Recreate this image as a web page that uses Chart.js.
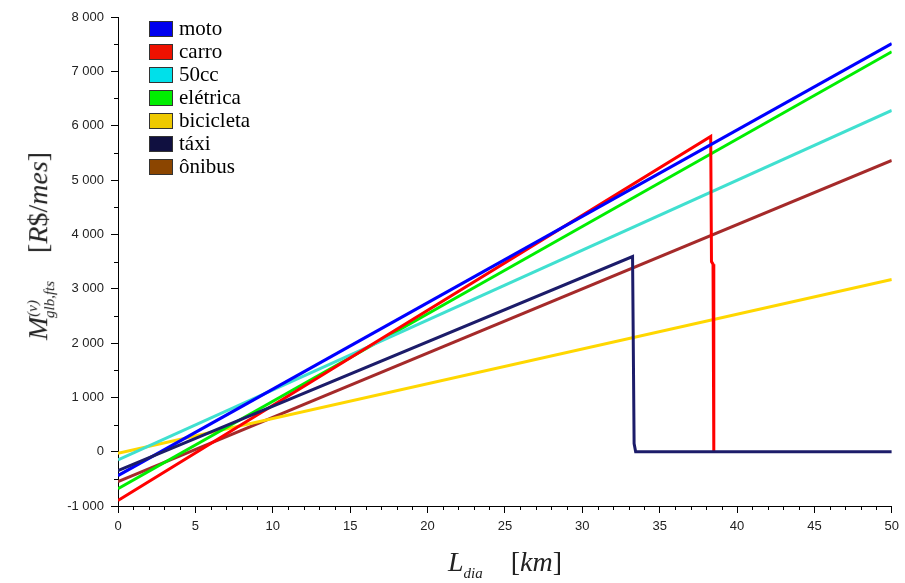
<!DOCTYPE html>
<html>
<head>
<meta charset="utf-8">
<script src="https://cdn.jsdelivr.net/npm/chart.js@4.4.0/dist/chart.umd.min.js"></script>
<style>
  html, body { margin: 0; padding: 0; background: #fff; }
  #wrap { position: relative; width: 905px; height: 583px; }
  #legenda { position: absolute; left: 149px; top: 17px; font-family: "Liberation Serif", serif; font-size: 21px; color: #000; }
  #legenda div { height: 23px; line-height: 21px; display: flex; align-items: center; }
  #legenda span.caixa { display: inline-block; width: 24px; height: 16px; border: 1px solid #333; margin-right: 6px; box-sizing: border-box; }
  .titulo { position: absolute; font-family: "Liberation Serif", serif; font-style: italic; color: #222; white-space: nowrap; }
  .titulo sub, .titulo sup { font-size: 15px; }
  .titulo .reto { font-style: normal; }
  #ytitulo { left: 40px; top: 246px; font-size: 28px; transform: translate(-50%, -50%) rotate(-90deg); }
  #xtitulo { left: 505px; top: 564px; font-size: 28px; transform: translate(-50%, -50%); }
</style>
</head>
<body>
<div id="wrap">
  <canvas id="grafico" width="905" height="583"></canvas>
  <div id="legenda"></div>
  <div class="titulo" id="ytitulo">M<sup>(v)</sup><sub style="margin-left:-18px">glb,fts</sub>&nbsp;&nbsp;&nbsp;&nbsp;<span class="reto">[</span>R<span class="reto">$/</span>mes<span class="reto">]</span></div>
  <div class="titulo" id="xtitulo">L<sub>dia</sub>&nbsp;&nbsp;&nbsp;&nbsp;<span class="reto">[</span>km<span class="reto">]</span></div>
</div>
<script>
// --- dados ---
const nomes = ['moto', 'carro', '50cc', 'elétrica', 'bicicleta', 'táxi', 'ônibus'];
const coresLinha = ['#0000ff', '#ff0000', '#40e0d0', '#00ee00', '#ffd700', '#1c1c6a', '#a52a2a'];
const coresLegenda = ['#0000ee', '#ee1100', '#00e0ea', '#00ee00', '#eec900', '#101040', '#8b4500'];

// km percorridos por dia e custo mensal de cada veículo
const motoKm = [0, 50];
const motoVal = [-440, 7510];
const carroKm = [0, 38.3, 38.35, 38.45, 38.5];
const carroVal = [-900, 5800, 3500, 3450, 0];
const ccKm = [0, 50];
const ccVal = [-150, 6280];
const eletricaKm = [0, 50];
const eletricaVal = [-680, 7360];
const bicicletaKm = [0, 50];
const bicicletaVal = [-30, 3170];
const taxiKm = [0, 33.25, 33.35, 33.45, 50];
const taxiVal = [-350, 3590, 150, 0, 0];
const onibusKm = [0, 50];
const onibusVal = [-550, 5360];

const xTicks = [0, 5, 10, 15, 20, 25, 30, 35, 40, 45, 50];
const yTicks = [-1000, 0, 1000, 2000, 3000, 4000, 5000, 6000, 7000, 8000];

const series = [
  [motoKm, motoVal], [carroKm, carroVal], [ccKm, ccVal], [eletricaKm, eletricaVal],
  [bicicletaKm, bicicletaVal], [taxiKm, taxiVal], [onibusKm, onibusVal]
];

function pontos(xs, ys) {
  return xs.map((x, i) => ({ x: x, y: ys[i] }));
}

function milhar(v) {
  const s = String(Math.abs(v)).replace(/\B(?=(\d{3})+(?!\d))/g, ' ');
  return (v < 0 ? '-' : '') + s;
}

// legenda em HTML
const legenda = document.getElementById('legenda');
nomes.forEach((n, i) => {
  const linha = document.createElement('div');
  linha.innerHTML = '<span class="caixa" style="background:' + coresLegenda[i] + '"></span>' + n;
  legenda.appendChild(linha);
});

// traços menores dos eixos
const tracosMenores = {
  id: 'tracosMenores',
  afterDraw(chart) {
    const ctx = chart.ctx;
    const sx = chart.scales.x, sy = chart.scales.y;
    ctx.save();
    ctx.strokeStyle = '#000';
    ctx.lineWidth = 1;
    ctx.beginPath();
    for (let k = 0; k <= 50; k++) {
      if (k % 5 === 0) continue;
      const px = Math.round(sx.getPixelForValue(k)) + 0.5;
      ctx.moveTo(px, sy.bottom);
      ctx.lineTo(px, sy.bottom + 4);
    }
    for (let v = -500; v < 8000; v += 1000) {
      const py = Math.round(sy.getPixelForValue(v)) + 0.5;
      ctx.moveTo(sx.left, py);
      ctx.lineTo(sx.left - 4, py);
    }
    ctx.stroke();
    ctx.restore();
  }
};

new Chart(document.getElementById('grafico'), {
  type: 'line',
  data: {
    datasets: series.map((s, i) => ({
      label: nomes[i],
      data: pontos(s[0], s[1]),
      borderColor: coresLinha[i],
      backgroundColor: coresLegenda[i],
      borderWidth: 3,
      pointRadius: 0,
      tension: 0,
      fill: false,
      order: nomes[i] === 'táxi' ? -1 : i
    }))
  },
  options: {
    responsive: false,
    animation: false,
    layout: { padding: { left: 0, right: 12, top: 17, bottom: 0 } },
    plugins: { legend: { display: false }, tooltip: { enabled: false } },
    scales: {
      x: {
        type: 'linear', min: 0, max: 50,
        afterFit(scale) { scale.height = 77; },
        afterBuildTicks(scale) { scale.ticks = xTicks.map(v => ({ value: v })); },
        ticks: { color: '#222', font: { family: 'Liberation Sans', size: 13 }, padding: 6 },
        grid: { drawOnChartArea: false, drawTicks: true, tickLength: 7, tickColor: '#000', color: '#000' },
        border: { color: '#000', width: 1 }
      },
      y: {
        type: 'linear', min: -1000, max: 8000,
        afterFit(scale) { scale.width = 118; },
        afterBuildTicks(scale) { scale.ticks = yTicks.map(v => ({ value: v })); },
        ticks: { color: '#222', font: { family: 'Liberation Sans', size: 13 }, padding: 7, callback: v => milhar(v) },
        grid: { drawOnChartArea: false, drawTicks: true, tickLength: 7, tickColor: '#000', color: '#000' },
        border: { color: '#000', width: 1 }
      }
    }
  },
  plugins: [tracosMenores]
});
</script>
</body>
</html>
